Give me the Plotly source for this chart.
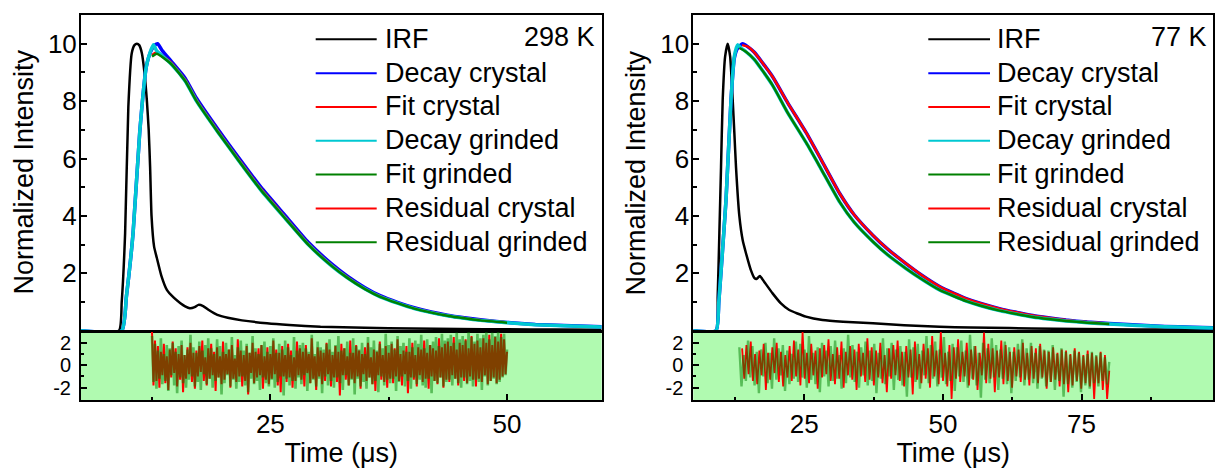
import numpy as np
import plotly.graph_objects as go

W, H = 1215, 468

# ---------------- 298 K panel data ----------------
IRF_298_T = [5, 9.0, 9.3, 9.66, 10.0, 10.36, 10.65, 10.9, 11.15, 11.43, 11.7, 11.95, 12.15, 12.3, 12.45, 12.72,
             13.0, 13.5, 14.07, 14.8, 15.5, 16.0, 16.5, 17.0, 17.4, 17.9, 18.5, 19.4, 20.5, 22, 24.65, 27, 30.3,
             35, 40, 45, 50, 55, 60]
IRF_298_Y = [0, 0, 1.0, 3.4, 7.8, 9.67, 9.95, 10, 9.95, 9.67, 9.0, 8.05, 7.0, 5.7, 4.0, 2.93,
             2.55, 1.9, 1.42, 1.15, 0.96, 0.85, 0.78, 0.82, 0.9, 0.86, 0.72, 0.55, 0.45, 0.36, 0.26, 0.2, 0.14,
             0.1, 0.08, 0.06, 0.05, 0.04, 0.03]

DC_298_T = [5, 9.3, 9.8, 10.5, 11.2, 11.9, 12.4, 12.8, 13.1, 13.6, 14.5, 16, 17.2, 19.5, 21.6, 24, 26.6, 29, 31.5,
            33.1, 35, 36.6, 38.5, 40.2, 42, 43.7, 45.5, 47.2, 50, 53, 56, 60]
DC_298_Y = [0, 0, 1.2, 3.4, 6.9, 9.2, 9.75, 9.95, 10.0, 9.75, 9.4, 8.8, 8.1, 7.0, 6.05, 5.0, 4.0, 3.08, 2.32,
            1.91, 1.5, 1.22, 0.98, 0.8, 0.65, 0.54, 0.45, 0.38, 0.29, 0.22, 0.18, 0.14]

DG_298_T = [5, 9.3, 9.8, 10.5, 11.2, 11.9, 12.3, 12.65, 13.0, 13.5, 14.5, 16, 17.2, 19.5, 21.6, 24, 26.6, 29, 31.5,
            33.1, 35, 36.6, 38.5, 40.2, 42, 43.7, 45.5, 47.2, 50, 53, 56, 60]
DG_298_Y = [0, 0, 1.2, 3.4, 6.9, 9.2, 9.7, 9.96, 9.75, 9.6, 9.3, 8.7, 8.0, 6.9, 5.95, 4.9, 3.9, 3.0, 2.25,
            1.85, 1.45, 1.18, 0.95, 0.77, 0.63, 0.52, 0.43, 0.36, 0.28, 0.21, 0.17, 0.13]

FIT_298_T = [12.5, 13.0, 14.5, 16, 17.2, 19.5, 21.6, 24, 26.6, 29, 31.5, 33.1, 35, 36.6, 38.5, 40.2, 42, 43.7,
             45.5, 47.2, 50]
FC_298_Y = [9.6, 9.7, 9.35, 8.75, 8.05, 6.95, 6.0, 4.95, 3.95, 3.04, 2.28, 1.88, 1.47, 1.2, 0.96, 0.78, 0.64, 0.53,
            0.44, 0.37, 0.29]
FG_298_Y = [9.55, 9.65, 9.3, 8.7, 8.0, 6.9, 5.95, 4.9, 3.9, 3.0, 2.25, 1.85, 1.45, 1.18, 0.95, 0.77, 0.63, 0.52,
            0.43, 0.36, 0.28]

RES_298_START, RES_298_END = 12.5, 50.0
RES_C_298 = [
    3.0, -1.8, 2.2, -1.4, 1.7, -2.0, 1.2, -0.9, 1.9, -1.6, 0.8, -2.2, 1.4, -1.1, 2.1, -0.7, 1.5, -1.9, 1.0, -1.3,
    1.8, -2.4, 0.9, -1.2, 1.6, -0.8, 2.0, -1.5, 1.1, -2.1, 1.3, -1.0, 1.7, -0.6, 2.2, -1.4, 0.7, -1.8, 1.5, -1.2,
    1.9, -0.9, 1.2, -2.3, 1.6, -1.1, 0.8, -1.7, 2.1, -1.3, 1.0, -0.8, 1.4, -2.0, 1.8, -1.2, 0.6, -1.5, 2.3, -1.0,
    1.3, -1.9, 0.9, -1.4, 1.7, -2.6, 1.1, -0.7, 2.0, -1.6, 1.2, -1.1, 1.5, -0.9, 1.8, -2.1, 0.8, -1.3, 1.6, -1.7,
    1.0, -1.2, 2.2, -0.8, 1.4, -1.8, 1.1, -2.4, 1.7, -1.0, 0.9, -1.5, 1.9, -1.1, 1.3, -2.0, 0.7, -1.4, 2.1, -0.9,
    1.5, -1.3, 1.2, -1.9, 1.8, -0.7, 1.0, -1.6, 2.4, -1.2, 0.8, -2.2, 1.6, -1.0, 1.3, -1.7, 1.1, -1.4, 2.0, -0.8,
    1.4, -1.9, 0.9, -1.1, 1.7, -1.5, 1.2, -2.7, 1.9, -0.9, 1.5, -1.3, 0.8, -1.8, 2.2, -1.2, 1.1, -1.6, 1.8, -1.0,
    1.3, -2.1, 1.0, -0.8, 1.6, -1.4, 2.0, -1.1, 0.7, -1.7, 1.4, -2.3, 1.2, -0.9, 2.1, -1.3, 0.9, -1.5, 1.7, -2.0,
    1.1, -1.2, 1.9, -1.6, 1.5, -1.0, 2.3, -1.4, 1.0, -1.8, 1.3, -0.8, 1.7, -2.5, 1.2, -1.1, 2.0, -1.3, 0.9, -1.9,
    1.6, -0.9, 1.4, -1.5, 2.2, -1.2, 1.1, -2.1, 1.8, -1.0, 1.5, -1.4, 1.3, -1.7, 2.4, -1.1, 1.6, -2.0, 1.9, -1.3,
    2.1, -1.5, 1.7, -0.9, 2.5, -1.2, 1.4, -1.8, 2.0, -1.1, 1.8, -1.4, 2.3, -1.6, 1.5, -1.0, 2.6, -1.3, 1.9, -1.9,
    2.2, -1.2, 1.6, -1.5, 2.4, -0.9, 2.0, -1.7, 2.7, -1.4, 1.8, -1.1, 2.5, -1.6, 2.1, -1.3, 2.8, -1.0, 2.3, -0.8,
    1.2]
RES_G_298 = [
    2.6, -1.5, 1.9, -2.1, 1.3, -1.2, 2.4, -1.7, 1.0, -1.4, 1.8, -2.3, 1.5, -0.9, 2.0, -1.8, 1.2, -2.5, 1.7, -1.1,
    2.2, -1.6, 0.9, -2.0, 1.4, -1.3, 2.7, -1.0, 1.6, -1.9, 1.1, -1.5, 2.1, -2.2, 1.3, -0.8, 1.8, -1.7, 2.4, -1.2,
    1.5, -2.0, 1.0, -1.4, 2.3, -1.1, 1.7, -2.6, 1.2, -1.6, 2.0, -0.9, 1.4, -1.9, 2.5, -1.3, 0.9, -2.1, 1.6, -1.5,
    2.2, -1.0, 1.3, -1.8, 1.9, -2.4, 1.1, -1.2, 2.6, -1.7, 1.5, -1.4, 1.0, -2.2, 1.8, -1.1, 2.1, -1.6, 1.2, -1.9,
    1.7, -1.3, 2.4, -2.0, 1.1, -1.5, 1.9, -1.0, 1.4, -2.7, 2.2, -1.2, 1.6, -1.8, 0.9, -1.4, 2.5, -2.1, 1.3, -1.1,
    1.8, -1.7, 2.0, -0.9, 1.5, -2.3, 1.2, -1.6, 2.7, -1.3, 1.0, -1.9, 2.1, -1.2, 1.6, -2.5, 1.4, -1.0, 1.9, -1.8,
    2.3, -1.4, 1.2, -2.0, 1.8, -1.1, 2.6, -1.6, 1.3, -2.2, 1.5, -0.9, 2.1, -1.8, 1.1, -1.3, 2.4, -2.6, 1.7, -1.2,
    1.4, -1.9, 2.0, -1.5, 1.0, -2.1, 2.5, -1.1, 1.6, -1.7, 2.2, -1.4, 1.3, -2.4, 1.9, -1.0, 1.5, -1.8, 2.8, -1.3,
    1.8, -1.6, 2.1, -1.2, 1.4, -2.3, 2.6, -1.5, 1.7, -1.0, 2.0, -1.9, 1.2, -1.4, 2.4, -2.1, 1.6, -1.1, 2.2, -1.7,
    1.9, -1.3, 2.7, -1.8, 1.5, -2.0, 2.3, -1.2, 1.8, -2.5, 2.1, -1.4, 2.5, -1.6, 1.7, -1.1, 2.8, -1.9, 2.2, -1.5,
    2.4, -1.3, 2.7, -1.8, 2.0, -1.2, 2.9, -1.6, 2.3, -2.0, 2.6, -1.1, 2.2, -1.7, 3.0, -1.4, 2.5, -1.9, 2.1, -1.3,
    2.8, -1.5, 2.4, -2.2, 2.7, -1.0, 3.0, -1.8, 2.3, -1.4, 2.9, -1.2, 2.6, -1.7, 3.0, -1.5, 2.5, -1.1, 2.8, -0.9,
    1.4]

# ---------------- 77 K panel data ----------------
IRF_77_T = [5, 9.1, 9.4, 9.7, 10.0, 10.3, 10.74, 11.2, 11.64, 12.1, 12.4, 12.7, 13.3, 13.9, 14.5, 15.4, 16.0, 16.4,
            17.0, 17.8, 19.3, 20.8, 22.3, 25.3, 28.3, 32, 37.4, 43, 49.4, 55, 62, 70, 80, 90, 98.7]
IRF_77_Y = [0, 0, 1.2, 3.4, 5.7, 8.05, 9.56, 10, 9.56, 8.05, 6.9, 5.7, 4.0, 3.16, 2.7, 2.1, 1.84, 1.8,
            1.91, 1.7, 1.3, 0.95, 0.72, 0.49, 0.37, 0.31, 0.26, 0.19, 0.14, 0.11, 0.09, 0.07, 0.05, 0.04, 0.03]

DC_77_T = [5, 9.1, 9.6, 10.2, 10.9, 11.8, 12.4, 13.0, 13.9, 14.8, 16, 19.3, 22, 25.35, 28, 31.4, 34, 37.4, 40,
           43.4, 46, 49.4, 52, 54.2, 57, 60.2, 63, 66.2, 69, 72.2, 76, 80, 85, 90, 95, 98.7]
DC_77_Y = [0, 0, 1.0, 2.6, 4.56, 8.05, 9.5, 9.85, 10.0, 9.9, 9.7, 8.85, 7.95, 6.9, 5.98, 4.78, 4.04, 3.32, 2.85,
           2.33, 1.96, 1.54, 1.3, 1.12, 0.94, 0.77, 0.65, 0.53, 0.45, 0.37, 0.3, 0.25, 0.2, 0.15, 0.12, 0.1]

DG_77_T = [5, 9.1, 9.6, 10.2, 10.9, 11.8, 12.4, 13.0, 13.6, 14.5, 16, 19.3, 22, 25.35, 28, 31.4, 34, 37.4, 40,
           43.4, 46, 49.4, 52, 54.2, 57, 60.2, 63, 66.2, 69, 72.2, 76, 80, 85, 90, 95, 98.7]
DG_77_Y = [0, 0, 1.0, 2.6, 4.56, 8.05, 9.56, 9.96, 9.85, 9.72, 9.45, 8.55, 7.6, 6.55, 5.65, 4.48, 3.78, 3.1, 2.65,
           2.16, 1.82, 1.42, 1.2, 1.03, 0.86, 0.7, 0.59, 0.48, 0.41, 0.34, 0.28, 0.23, 0.18, 0.14, 0.11, 0.09]

FC_77_T = [13.8, 14.8, 16, 19.3, 22, 25.35, 28, 31.4, 34, 37.4, 40, 43.4, 46, 49.4, 52, 54.2, 57, 60.2, 63, 66.2,
           69, 72.2, 76, 80]
FC_77_Y = [9.95, 9.9, 9.7, 8.85, 7.95, 6.9, 5.98, 4.78, 4.04, 3.32, 2.85, 2.33, 1.96, 1.54, 1.3, 1.12, 0.94, 0.77,
           0.65, 0.53, 0.45, 0.37, 0.3, 0.25]
FG_77_T = [13.3, 14.5, 16, 19.3, 22, 25.35, 28, 31.4, 34, 37.4, 40, 43.4, 46, 49.4, 52, 54.2, 57, 60.2, 63, 66.2,
           69, 72.2, 76, 80]
FG_77_Y = [9.85, 9.72, 9.45, 8.55, 7.6, 6.55, 5.65, 4.48, 3.78, 3.1, 2.65, 2.16, 1.82, 1.42, 1.2, 1.03, 0.86, 0.7,
           0.59, 0.48, 0.41, 0.34, 0.28, 0.23]

RES_C_77_START, RES_G_77_START, RES_77_END = 13.8, 13.3, 80.0
RES_C_77 = [
    1.5, -1.2, 1.8, -0.8, 2.1, -1.4, 1.0, -1.7, 1.3, -0.9, 1.9, -2.2, 1.1, -1.3, 1.6, -0.7, 2.0, -1.5, 1.2, -1.9,
    0.9, -1.1, 1.7, -1.4, 2.2, -1.0, 1.4, -1.8, 3.0, -1.2, 1.1, -1.6, 1.9, -0.9, 1.3, -2.1, 1.5, -1.1, 1.8, -0.8,
    2.3, -1.4, 1.0, -1.7, 1.6, -1.2, 2.1, -2.0, 1.2, -0.9, 1.7, -1.3, 1.4, -2.2, 1.9, -1.0, 1.1, -1.5, 2.4, -1.3,
    1.6, -1.8, 1.3, -1.1, 2.0, -1.6, 0.9, -2.4, 1.5, -1.2, 1.8, -0.9, 2.2, -1.4, 1.2, -1.9, 1.7, -1.1, 1.4, -2.6,
    2.1, -1.3, 1.0, -1.6, 1.9, -1.2, 1.5, -2.0, 2.6, -1.0, 1.3, -1.7, 3.0, -1.4, 1.1, -1.9, 1.8, -3.0, 1.6, -1.2,
    2.3, -1.5, 1.2, -1.0, 2.0, -1.8, 1.4, -1.3, 1.7, -2.2, 1.1, -0.9, 2.9, -1.6, 1.9, -1.2, 1.5, -2.4, 1.3, -1.1,
    2.2, -1.7, 1.8, -1.4, 1.2, -2.0, 1.6, -1.0, 1.4, -1.5, 2.0, -1.3, 1.1, -1.8, 1.7, -1.2, 1.5, -1.6, 1.9, -1.1,
    1.3, -2.1, 1.2, -1.5, 1.6, -1.3, 1.1, -1.9, 1.4, -1.7, 1.3, -2.4, 1.0, -1.8, 1.5, -1.4, 1.2, -2.1, 0.9, -1.6,
    1.3, -1.9, 1.1, -3.0, 0.8, -1.6, 1.2, -2.2, 0.9, -3.0, -0.5]
RES_G_77 = [
    1.6, -1.9, 0.9, -1.4, 2.2, -1.1, 1.7, -1.8, 1.2, -2.5, 1.4, -1.0, 2.0, -1.6, 1.1, -2.1, 2.4, -1.3, 1.5, -0.9,
    1.8, -2.3, 1.3, -1.7, 1.0, -1.2, 2.1, -1.5, 1.9, -1.1, 1.4, -2.0, 2.6, -1.3, 1.1, -1.7, 1.6, -2.4, 2.0, -1.0,
    1.3, -1.9, 1.7, -1.4, 2.2, -1.2, 0.9, -2.1, 1.5, -1.6, 2.7, -1.1, 1.8, -1.5, 1.2, -2.0, 1.6, -0.9, 2.1, -1.8,
    1.3, -1.4, 1.9, -2.5, 1.1, -1.2, 2.4, -1.7, 1.5, -1.0, 2.0, -2.2, 1.4, -1.3, 1.7, -1.8, 1.2, -2.8, 2.3, -1.1,
    1.6, -1.5, 1.9, -2.1, 1.3, -0.9, 2.6, -1.6, 1.8, -1.2, 2.1, -1.9, 1.4, -1.1, 2.5, -1.7, 1.2, -1.4, 1.9, -2.3,
    1.6, -1.0, 2.2, -1.5, 1.3, -2.0, 2.7, -1.2, 1.7, -1.8, 1.1, -2.9, 2.0, -1.3, 1.5, -1.6, 2.4, -1.1, 1.8, -2.2,
    1.4, -1.2, 2.1, -1.7, 1.6, -2.5, 1.2, -1.4, 1.9, -1.1, 2.3, -1.8, 1.5, -1.3, 2.0, -1.6, 1.1, -2.1, 1.7, -1.2,
    1.4, -1.9, 1.3, -1.5, 1.8, -2.2, 1.0, -1.4, 1.5, -2.8, 1.2, -1.7, 0.9, -2.0, 1.3, -1.5, 1.1, -2.4, 0.8, -1.8,
    1.0, -2.1, 1.2, -1.6, 0.9, -1.9, 1.1, -1.4, 0.7, -1.7, 0.3]

LEGEND_NAMES = ["IRF", "Decay crystal", "Fit crystal", "Decay grinded", "Fit grinded",
                "Residual crystal", "Residual grinded"]
C_IRF, C_DC, C_FC, C_DG, C_FG, C_RC, C_RG = "#000000", "#0000FF", "#FF0000", "#00C8D2", "#008000", "#FF0000", "#008000"
LEGEND_COLORS = [C_IRF, C_DC, C_FC, C_DG, C_FG, C_RC, C_RG]
TEMPS = ["298 K", "77 K"]
Y_TITLE = "Normalized Intensity"
X_TITLE = "Time (μs)"

FONT = "Arial, Liberation Sans, sans-serif"

fig = go.Figure()


def line(x, y, color, width, xa, ya, opacity=1.0, shape="spline"):
    fig.add_trace(go.Scatter(
        x=x, y=y, mode="lines",
        line=dict(color=color, width=width, shape=shape, smoothing=0.5),
        opacity=opacity, xaxis=xa, yaxis=ya, showlegend=False, hoverinfo="skip"))


# left panel (298 K)
line(IRF_298_T, IRF_298_Y, C_IRF, 2.5, "x", "y")
line(DC_298_T, DC_298_Y, C_DC, 3.5, "x", "y")
line(FIT_298_T, FC_298_Y, C_FC, 2.5, "x", "y")
line(DG_298_T, DG_298_Y, C_DG, 3.5, "x", "y")
line(FIT_298_T, FG_298_Y, C_FG, 2.5, "x", "y")
line(np.linspace(RES_298_START, RES_298_END, len(RES_C_298)), RES_C_298, C_RC, 2.0, "x3", "y3", shape="linear")
line(np.linspace(RES_298_START, RES_298_END, len(RES_G_298)), RES_G_298, C_RG, 2.6, "x3", "y3", 0.5, shape="linear")

# right panel (77 K)
line(IRF_77_T, IRF_77_Y, C_IRF, 2.5, "x2", "y2")
line(DC_77_T, DC_77_Y, C_DC, 3.5, "x2", "y2")
line(FC_77_T, FC_77_Y, C_FC, 2.5, "x2", "y2")
line(DG_77_T, DG_77_Y, C_DG, 3.5, "x2", "y2")
line(FG_77_T, FG_77_Y, C_FG, 2.5, "x2", "y2")
line(np.linspace(RES_C_77_START, RES_77_END, len(RES_C_77)), RES_C_77, C_RC, 1.8, "x4", "y4", shape="linear")
line(np.linspace(RES_G_77_START, RES_77_END, len(RES_G_77)), RES_G_77, C_RG, 2.4, "x4", "y4", 0.5, shape="linear")

# ---------------- layout ----------------
LX = [81 / W, 601.7 / W]
RX = [693.3 / W, 1213 / W]
MAIN_D = [1 - 330.7 / H, 1 - 15 / H]
RES_D = [1 - 400 / H, 1 - 331.5 / H]

frame = dict(showline=True, linecolor="black", linewidth=2, mirror=True, showgrid=False, zeroline=False)
tickf = dict(family=FONT, size=26, color="black")
rtickf = dict(family=FONT, size=20, color="black")
titlef = dict(family=FONT, size=27, color="black")

def main_x(dom, rng):
    return dict(frame, domain=dom, range=rng, showticklabels=False, ticks="")

def res_x(dom, rng, tv, minor, anchor):
    return dict(frame, domain=dom, range=rng, anchor=anchor, ticks="inside", ticklen=6, tickwidth=1.5,
                tickcolor="black", tickvals=tv, ticktext=[str(v) for v in tv], tickfont=tickf,
                minor=dict(tickvals=minor, ticks="inside", ticklen=3, tickwidth=1.5, tickcolor="black"),
                title=dict(text=X_TITLE, font=titlef, standoff=6))

def main_y(anchor):
    return dict(frame, domain=MAIN_D, range=[0, 11], anchor=anchor, ticks="inside", ticklen=6, tickwidth=1.5,
                tickcolor="black", tickvals=[2, 4, 6, 8, 10], ticktext=["2", "4", "6", "8", "10"], tickfont=tickf,
                minor=dict(tickvals=[1, 3, 5, 7, 9], ticks="inside", ticklen=4, tickwidth=1.5, tickcolor="black"),
                ticklabelstandoff=-3)

def res_y(anchor):
    return dict(frame, domain=RES_D, range=[-3.1, 3.0], anchor=anchor, ticks="inside", ticklen=6, tickwidth=1.5,
                tickcolor="black", tickvals=[-2, 0, 2], ticktext=["-2", "0", "2"], tickfont=rtickf,
                minor=dict(tickvals=[-1, 1], ticks="inside", ticklen=3, tickwidth=1.5, tickcolor="black"),
                ticklabelstandoff=4)

shapes = [
    dict(type="rect", xref="x3 domain", yref="y3 domain", x0=0, x1=1, y0=0, y1=1,
         fillcolor="#B0FAB0", line=dict(width=0), layer="below"),
    dict(type="rect", xref="x4 domain", yref="y4 domain", x0=0, x1=1, y0=0, y1=1,
         fillcolor="#B0FAB0", line=dict(width=0), layer="below"),
]
annotations = []
for (lx0, lx1, tx, kx, ytx), temp in zip([(315.7, 376.7, 383, 597, 23), (928.3, 990, 995.3, 1209, 635)], TEMPS):
    for i, (name, col) in enumerate(zip(LEGEND_NAMES, LEGEND_COLORS)):
        yy = 39.3 + 33.83 * i
        shapes.append(dict(type="line", xref="paper", yref="paper", x0=lx0 / W, x1=lx1 / W,
                           y0=1 - yy / H, y1=1 - yy / H, line=dict(color=col, width=2)))
        annotations.append(dict(xref="paper", yref="paper", x=tx / W, y=1 - (yy - 0.5) / H, text=name,
                                showarrow=False, xanchor="left", yanchor="middle", font=titlef))
    annotations.append(dict(xref="paper", yref="paper", x=kx / W, y=1 - 37 / H, text=temp,
                            showarrow=False, xanchor="right", yanchor="middle", font=titlef))
    # y-axis title of the panel
    annotations.append(dict(xref="paper", yref="paper", x=ytx / W, y=1 - 172.5 / H, text=Y_TITLE,
                            textangle=-90, showarrow=False, xanchor="center", yanchor="middle", font=titlef))

fig.update_layout(
    width=W, height=H, margin=dict(l=0, r=0, t=0, b=0),
    paper_bgcolor="white", plot_bgcolor="white", showlegend=False,
    font=dict(family=FONT, color="black"),
    xaxis=main_x(LX, [5, 60]),
    xaxis2=main_x(RX, [5, 98.7]),
    xaxis3=res_x(LX, [5, 60], [25, 50], [12.5, 37.5], "y3"),
    xaxis4=res_x(RX, [5, 98.7], [25, 50, 75], [12.5, 37.5, 62.5, 87.5], "y4"),
    yaxis=main_y("x"),
    yaxis2=main_y("x2"),
    yaxis3=res_y("x3"),
    yaxis4=res_y("x4"),
    shapes=shapes, annotations=annotations,
)
fig.update_layout(xaxis=dict(anchor="y"), xaxis2=dict(anchor="y2"))

fig.write_html("out.html", config={"displayModeBar": False},
               post_script="document.body.style.margin='0';document.body.style.overflow='hidden';")
